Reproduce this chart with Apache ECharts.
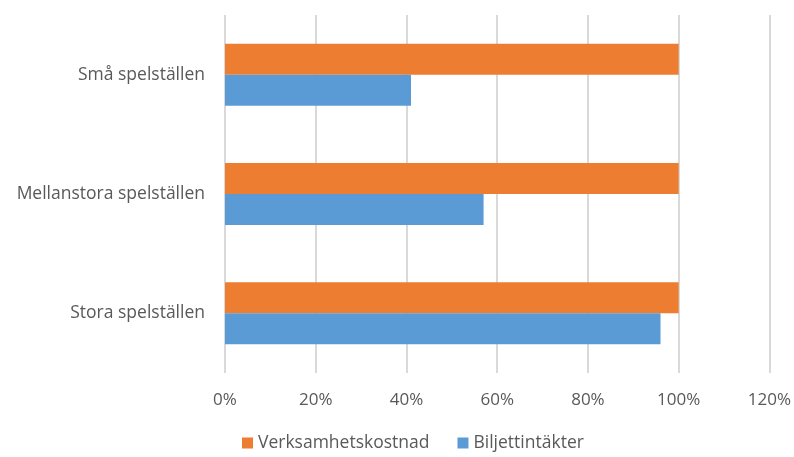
<!DOCTYPE html>
<html>
<head>
<meta charset="utf-8">
<script src="https://cdn.jsdelivr.net/npm/echarts@6/dist/echarts.min.js"></script>
<style>
  html, body { margin: 0; padding: 0; background: #fff; }
  #chart { width: 794px; height: 457px; }
</style>
</head>
<body>
<div id="chart"></div>
<script>
  // categories bottom -> top (category axis on y starts at the bottom)
  var categories = ['Stora spelställen', 'Mellanstora spelställen', 'Små spelställen'];
  var biljettintakter = [96, 57, 41];
  var verksamhetskostnad = [100, 100, 100];
  var legendNames = ['Verksamhetskostnad', 'Biljettintäkter'];

  var textColor = '#595959';
  var fontFamily = 'Open Sans, Liberation Sans, sans-serif';

  var chart = echarts.init(document.getElementById('chart'));
  chart.setOption({
    animation: false,
    textStyle: { fontFamily: fontFamily },
    grid: { left: 225, right: 24, top: 15, bottom: 84 },
    legend: {
      data: legendNames,
      bottom: 0,
      left: 237,
      itemWidth: 11,
      itemHeight: 11,
      itemGap: 28,
      icon: 'rect',
      textStyle: { color: textColor, fontSize: 17.5, fontFamily: fontFamily }
    },
    xAxis: {
      type: 'value',
      min: 0,
      max: 120,
      interval: 20,
      axisLine: { show: false },
      axisTick: { show: false },
      axisLabel: {
        color: textColor,
        fontSize: 17,
        margin: 19,
        formatter: '{value}%'
      },
      splitLine: { lineStyle: { color: '#d9d9d9', width: 2 } }
    },
    yAxis: {
      type: 'category',
      data: categories,
      axisLine: { show: false },
      axisTick: { show: false },
      axisLabel: { color: textColor, fontSize: 17.5, margin: 20 }
    },
    series: [
      {
        name: 'Verksamhetskostnad',
        type: 'bar',
        data: verksamhetskostnad,
        barGap: '0%',
        barCategoryGap: '48%',
        itemStyle: { color: '#ed7d31' }
      },
      {
        name: 'Biljettintäkter',
        type: 'bar',
        data: biljettintakter,
        barGap: '0%',
        barCategoryGap: '48%',
        itemStyle: { color: '#5b9bd5' }
      }
    ]
  });
</script>
</body>
</html>
